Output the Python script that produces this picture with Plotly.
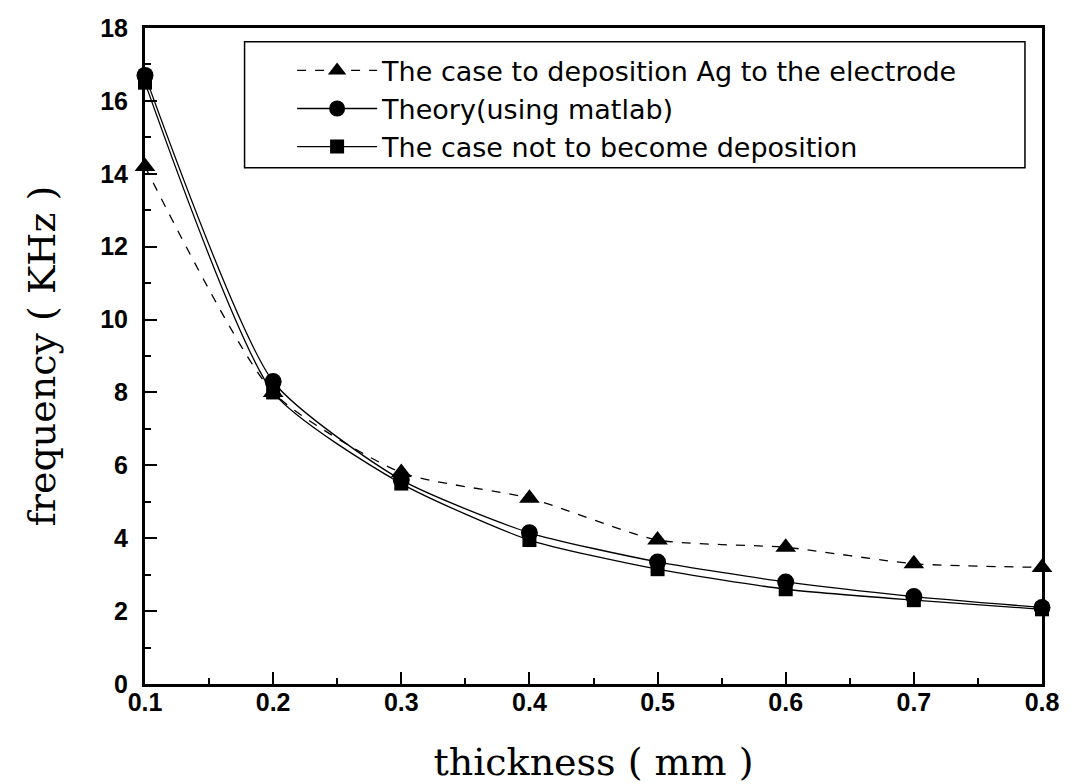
import plotly.graph_objects as go

thickness = [0.1, 0.2, 0.3, 0.4, 0.5, 0.6, 0.7, 0.8]
ag_deposition = [14.2, 8.0, 5.8, 5.1, 3.95, 3.75, 3.3, 3.2]
theory = [16.7, 8.3, 5.6, 4.15, 3.35, 2.8, 2.4, 2.1]
no_deposition = [16.5, 8.0, 5.5, 3.95, 3.15, 2.6, 2.3, 2.05]
x_tick_labels = ["0.1", "0.2", "0.3", "0.4", "0.5", "0.6", "0.7", "0.8"]

names = ["The case to deposition Ag to the electrode",
         "Theory(using matlab)",
         "The case not to become deposition"]

fig = go.Figure()
fig.add_trace(go.Scatter(x=thickness, y=ag_deposition, name=names[0], mode="lines+markers",
                         line=dict(color="black", width=1.3, dash="dash", shape="spline", smoothing=0.6),
                         marker=dict(symbol="triangle-up", size=18, color="black"), cliponaxis=False))
fig.add_trace(go.Scatter(x=thickness, y=theory, name=names[1], mode="lines+markers",
                         line=dict(color="black", width=1.3, shape="spline", smoothing=0.6),
                         marker=dict(symbol="circle", size=17, color="black"), cliponaxis=False))
fig.add_trace(go.Scatter(x=thickness, y=no_deposition, name=names[2], mode="lines+markers",
                         line=dict(color="black", width=1.3, shape="spline", smoothing=0.6),
                         marker=dict(symbol="square", size=14, color="black"), cliponaxis=False))

tickfont = dict(family="Liberation Sans, Arial", size=25, color="black", weight="bold")
titlefont = dict(family="DejaVu Serif, Liberation Serif, serif", size=38, color="black")

fig.update_xaxes(range=[0.1, 0.8], tickvals=thickness, ticktext=x_tick_labels,
                 ticks="inside", ticklen=12, tickwidth=2, tickcolor="black",
                 minor=dict(dtick=0.05, ticks="inside", ticklen=6, tickwidth=2, tickcolor="black"),
                 showline=True, linewidth=3, linecolor="black", mirror=True,
                 showgrid=False, zeroline=False, tickfont=tickfont, automargin=False,
                 ticklabelstandoff=-6,
                 title=dict(text="thickness ( mm )", font=titlefont, standoff=34))
fig.update_yaxes(range=[0, 18], dtick=2, ticks="inside", ticklen=12, tickwidth=2, tickcolor="black",
                 minor=dict(dtick=1, ticks="inside", ticklen=6, tickwidth=2, tickcolor="black"),
                 showline=True, linewidth=3, linecolor="black", mirror=True,
                 showgrid=False, zeroline=False, tickfont=tickfont, automargin=False,
                 ticklabelstandoff=9,
                 title=dict(text="frequency ( KHz )", font=titlefont, standoff=33))

fig.add_shape(type="rect", xref="paper", yref="paper", x0=0.111, x1=0.981, y0=0.787, y1=0.979,
              line=dict(color="black", width=1.5), layer="below")

fig.update_layout(width=1071, height=784, plot_bgcolor="white", paper_bgcolor="white",
                  margin=dict(l=137, r=37, t=20, b=108),
                  legend=dict(x=0.164, y=0.972, xanchor="left", yanchor="top",
                              bgcolor="rgba(0,0,0,0)", borderwidth=0,
                              font=dict(family="DejaVu Sans, Liberation Sans", size=27, color="black"),
                              tracegroupgap=0, itemwidth=80),
                  showlegend=True)

fig.write_html("out.html")
